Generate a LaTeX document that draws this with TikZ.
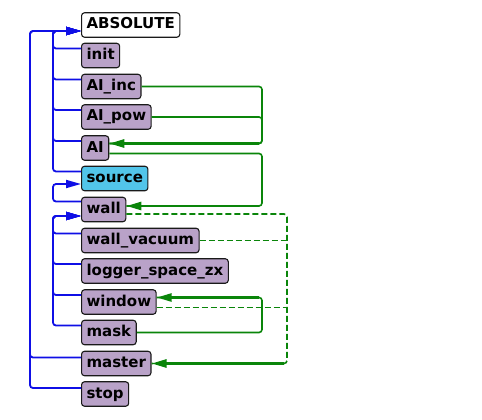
\documentclass[tikz,border=0pt]{standalone}
\usepackage{fontspec}
\setmainfont{DejaVu Sans}
\usepackage{tikz}
\usetikzlibrary{arrows.meta}
\definecolor{modfill}{HTML}{B9A2C8}
\definecolor{srcfill}{HTML}{52C5EA}
\definecolor{frame}{HTML}{1A1A1A}
\definecolor{treeblue}{HTML}{0F0FE6}
\definecolor{depgreen}{HTML}{0A850A}
\tikzset{
  box/.style={draw=frame, line width=1.1pt, rounded corners=3pt, fill=modfill, anchor=west,
    inner xsep=5pt, inner ysep=4.75pt, text height=11.5pt, text depth=3.5pt,
    font=\fontsize{15}{18}\selectfont\bfseries},
  topbox/.style={box, fill=white},
  srcbox/.style={box, fill=srcfill},
  tree/.style={draw=treeblue, line width=1.8pt, rounded corners=3pt, -{Triangle[length=15pt,width=8pt]}},
  dep/.style={draw=depgreen, line width=1.6pt, rounded corners=3pt},
  opt/.style={dep, dash pattern=on 6pt off 3pt},
  dephead/.style={draw=depgreen, line width=2.6pt, -{Triangle[length=15pt,width=8pt]}},
}
\begin{document}
\begin{tikzpicture}[x=1pt,y=-1pt]
  \useasboundingbox (0,0) rectangle (482,420);
  \node[topbox] (abs) at (81,25) {ABSOLUTE};
  \node[box] (init) at (81,55.5) {init};
  \node[box] (aiinc) at (81,86.5) {AI\_inc};
  \node[box] (aipow) at (81,117) {AI\_pow};
  \node[box] (ai) at (81,148) {AI};
  \node[srcbox] (source) at (81,178.5) {source};
  \node[box] (wall) at (81,209.5) {wall};
  \node[box] (wallvac) at (81,240.5) {wall\_vacuum};
  \node[box] (logger) at (81,271) {logger\_space\_zx};
  \node[box] (window) at (81,302) {window};
  \node[box] (mask) at (81,332.5) {mask};
  \node[box] (master) at (81,363.5) {master};
  \node[box] (stop) at (81,394) {stop};
  % blue tree
  \coordinate (hubA) at (53,31);
  \coordinate (hubB) at (30,31);
  \coordinate (hubS) at (53,184);
  \coordinate (hubW) at (53,216);
  \draw[tree] ([yshift=7pt]init.west) -| (hubA) -- ([yshift=-6pt]abs.west);
  \draw[tree] ([yshift=7pt]aiinc.west) -| (hubA) -- ([yshift=-6pt]abs.west);
  \draw[tree] ([yshift=7pt]aipow.west) -| (hubA) -- ([yshift=-6pt]abs.west);
  \draw[tree] ([yshift=7pt]ai.west) -| (hubA) -- ([yshift=-6pt]abs.west);
  \draw[tree] ([yshift=7pt]source.west) -| (hubA) -- ([yshift=-6pt]abs.west);
  \draw[tree] ([yshift=6pt]master.west) -| (hubB) -- ([yshift=-6pt]abs.west);
  \draw[tree] ([yshift=6pt]stop.west) -| (hubB) -- ([yshift=-6pt]abs.west);
  \draw[tree] ([yshift=8pt]wall.west) -| (hubS) -- ([yshift=-5.5pt]source.west);
  \draw[tree] ([yshift=7pt]wallvac.west) -| (hubW) -- ([yshift=-6.5pt]wall.west);
  \draw[tree] ([yshift=7pt]logger.west) -| (hubW) -- ([yshift=-6.5pt]wall.west);
  \draw[tree] ([yshift=7pt]window.west) -| (hubW) -- ([yshift=-6.5pt]wall.west);
  \draw[tree] ([yshift=7pt]mask.west) -| (hubW) -- ([yshift=-6.5pt]wall.west);
  % green links
  \coordinate (busAI) at (262,143.5);
  \coordinate (busWall) at (262,206);
  \coordinate (busWin) at (262,297.5);
  \coordinate (busM) at (287,363.5);
  \draw[dep] (aiinc.east) -| (busAI) -- ([yshift=4.5pt]ai.east);
  \draw[dep] (aipow.east) -| (busAI) -- ([yshift=4.5pt]ai.east);
  \draw[dephead] ([xshift=-3pt]busAI) -- ([yshift=4.5pt]ai.east);
  \draw[dep] ([yshift=-5.5pt]ai.east) -| (busWall) -- ([yshift=3.5pt]wall.east);
  \draw[dephead] ([xshift=-3pt]busWall) -- ([yshift=3.5pt]wall.east);
  \draw[dep] (mask.east) -| (busWin) -- ([yshift=4.5pt]window.east);
  \draw[dephead] ([xshift=-3pt]busWin) -- ([yshift=4.5pt]window.east);
  \draw[opt] ([yshift=-4.5pt]wall.east) -| (busM) -- (master.east);
  \draw[opt] (wallvac.east) -- (wallvac.east -| busM);
  \draw[opt] ([yshift=-5.5pt]window.east) -- ([yshift=-5.5pt]window.east -| busM);
  \draw[dephead] ([xshift=-3pt]busM) -- (master.east);
\end{tikzpicture}
\end{document}
